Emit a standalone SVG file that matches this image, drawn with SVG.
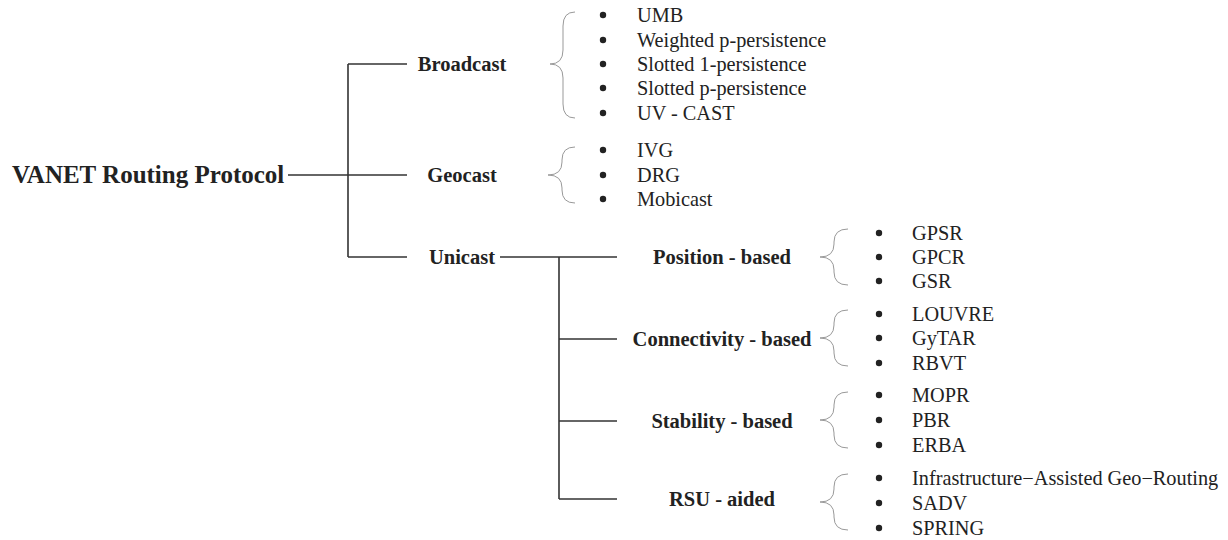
<svg xmlns="http://www.w3.org/2000/svg" width="1228" height="540" viewBox="0 0 1228 540">
  <style>
    .root { font-family: "Liberation Serif", "Times New Roman", serif; font-weight: bold; font-size: 25px; fill: #222; }
    .cat { font-family: "Liberation Serif", "Times New Roman", serif; font-weight: bold; font-size: 20.5px; fill: #222; text-anchor: middle; }
    .item { font-family: "Liberation Serif", "Times New Roman", serif; font-size: 20.3px; fill: #222; }
    .wire { stroke: #333; stroke-width: 1.6; fill: none; }
    .brace { stroke: #999; stroke-width: 1; fill: none; }
    .dot { fill: #222; }
  </style>

  <!-- tree connectors -->
  <g id="connectors">
    <line class="wire" x1="288" y1="175" x2="348" y2="175"/>
    <line class="wire" x1="348" y1="64" x2="348" y2="257"/>
    <line class="wire" x1="348" y1="64" x2="407" y2="64"/>
    <line class="wire" x1="348" y1="175" x2="407" y2="175"/>
    <line class="wire" x1="348" y1="257" x2="407" y2="257"/>
    <line class="wire" x1="500" y1="257" x2="617" y2="257"/>
    <line class="wire" x1="559" y1="257" x2="559" y2="499"/>
    <line class="wire" x1="559" y1="339" x2="617" y2="339"/>
    <line class="wire" x1="559" y1="421" x2="617" y2="421"/>
    <line class="wire" x1="559" y1="499" x2="617" y2="499"/>
  </g>

  <g id="root">
    <text class="root" x="12" y="183">VANET Routing Protocol</text>
  </g>

  <g id="broadcast">
    <text class="cat" x="462" y="71">Broadcast</text>
    <path class="brace" d="M575,12 Q563,12 563,26 L563,50 Q563,64 550,64 Q563,64 563,78 L563,104 Q563,118 575,118"/>
    <circle class="dot" cx="603" cy="15" r="3.2"/>
    <circle class="dot" cx="603" cy="40" r="3.2"/>
    <circle class="dot" cx="603" cy="64" r="3.2"/>
    <circle class="dot" cx="603" cy="88" r="3.2"/>
    <circle class="dot" cx="603" cy="113" r="3.2"/>
    <text class="item" x="637" y="22">UMB</text>
    <text class="item" x="637" y="47">Weighted p-persistence</text>
    <text class="item" x="637" y="71">Slotted 1-persistence</text>
    <text class="item" x="637" y="95">Slotted p-persistence</text>
    <text class="item" x="637" y="120">UV - CAST</text>
  </g>

  <g id="geocast">
    <text class="cat" x="462" y="182">Geocast</text>
    <path class="brace" d="M575,147 Q562,147 562,160 L562,162 Q562,175 548,175 Q562,175 562,188 L562,190 Q562,203 575,203"/>
    <circle class="dot" cx="603" cy="150" r="3.2"/>
    <circle class="dot" cx="603" cy="175" r="3.2"/>
    <circle class="dot" cx="603" cy="199" r="3.2"/>
    <text class="item" x="637" y="157">IVG</text>
    <text class="item" x="637" y="182">DRG</text>
    <text class="item" x="637" y="206">Mobicast</text>
  </g>

  <g id="unicast">
    <text class="cat" x="462" y="264">Unicast</text>
  </g>

  <g id="position-based">
    <text class="cat" x="722" y="264">Position - based</text>
    <path class="brace" d="M848,229 Q834,229 834,242 L834,244 Q834,257 820,257 Q834,257 834,270 L834,272 Q834,285 848,285"/>
    <circle class="dot" cx="879" cy="233" r="3.2"/>
    <circle class="dot" cx="879" cy="257" r="3.2"/>
    <circle class="dot" cx="879" cy="281" r="3.2"/>
    <text class="item" x="912" y="240">GPSR</text>
    <text class="item" x="912" y="264">GPCR</text>
    <text class="item" x="912" y="288">GSR</text>
  </g>

  <g id="connectivity-based">
    <text class="cat" x="722" y="346">Connectivity - based</text>
    <path class="brace" d="M848,310 Q834,310 834,323 L834,325 Q834,338 820,338 Q834,338 834,351 L834,353 Q834,366 848,366"/>
    <circle class="dot" cx="879" cy="314" r="3.2"/>
    <circle class="dot" cx="879" cy="338" r="3.2"/>
    <circle class="dot" cx="879" cy="363" r="3.2"/>
    <text class="item" x="912" y="321">LOUVRE</text>
    <text class="item" x="912" y="345">GyTAR</text>
    <text class="item" x="912" y="370">RBVT</text>
  </g>

  <g id="stability-based">
    <text class="cat" x="722" y="428">Stability - based</text>
    <path class="brace" d="M848,392 Q834,392 834,405 L834,407 Q834,420 820,420 Q834,420 834,433 L834,435 Q834,448 848,448"/>
    <circle class="dot" cx="879" cy="395" r="3.2"/>
    <circle class="dot" cx="879" cy="420" r="3.2"/>
    <circle class="dot" cx="879" cy="445" r="3.2"/>
    <text class="item" x="912" y="402">MOPR</text>
    <text class="item" x="912" y="427">PBR</text>
    <text class="item" x="912" y="452">ERBA</text>
  </g>

  <g id="rsu-aided">
    <text class="cat" x="722" y="506">RSU - aided</text>
    <path class="brace" d="M848,474 Q834,474 834,487 L834,489 Q834,502 820,502 Q834,502 834,515 L834,517 Q834,530 848,530"/>
    <circle class="dot" cx="879" cy="478" r="3.2"/>
    <circle class="dot" cx="879" cy="503" r="3.2"/>
    <circle class="dot" cx="879" cy="528" r="3.2"/>
    <text class="item" x="912" y="485">Infrastructure−Assisted Geo−Routing</text>
    <text class="item" x="912" y="510">SADV</text>
    <text class="item" x="912" y="535">SPRING</text>
  </g>
</svg>
